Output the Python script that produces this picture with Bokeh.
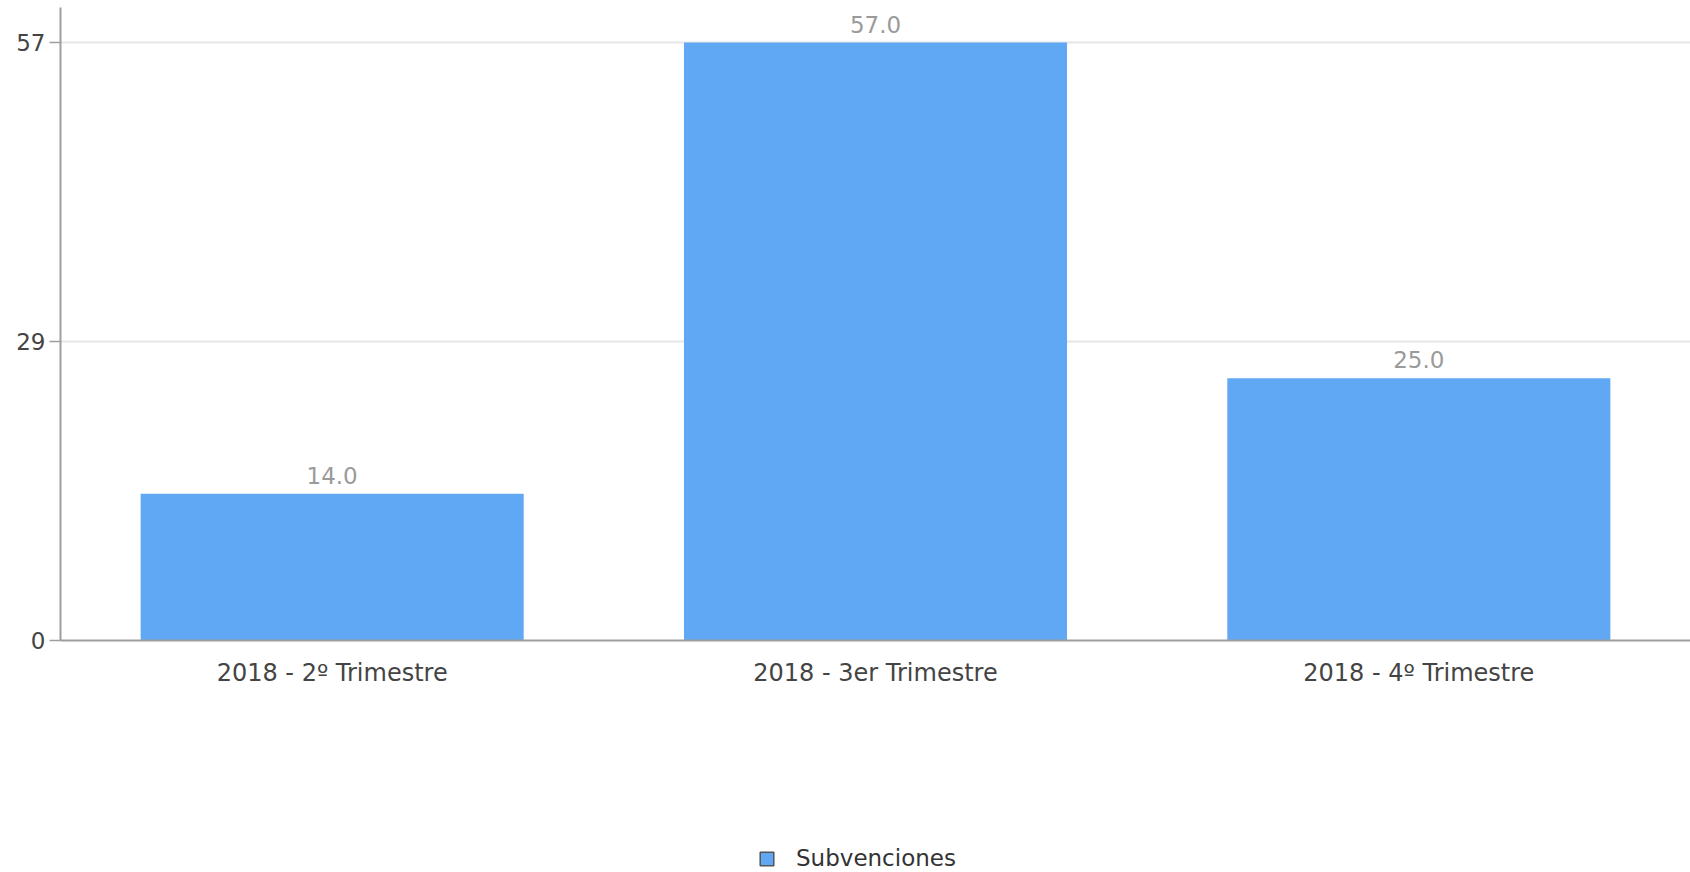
from bokeh.plotting import figure
from bokeh.layouts import column
from bokeh.models import (ColumnDataSource, FixedTicker, LabelSet, Legend,
                          LegendItem, Range1d, FactorRange)
from bokeh.core.properties import value
from bokeh.embed import file_html
from bokeh.resources import INLINE

# ---- data ----
categories = ["2018 - 2º Trimestre", "2018 - 3er Trimestre", "2018 - 4º Trimestre"]
values = [14.0, 57.0, 25.0]
series_name = "Subvenciones"
y_ticks = [0, 28.5, 57]
y_tick_labels = ["0", "29", "57"]

BAR_COLOR = "#60a8f4"
FONT = "DejaVu Sans"
FS = "23px"

src = ColumnDataSource(dict(cat=categories, val=values,
                            lbl=[f"{v:.1f}" for v in values]))

LEG_H = 60
p = figure(width=1690, height=872 - LEG_H,
           x_range=FactorRange(factors=categories),
           y_range=Range1d(0, 60.34),
           output_backend="svg", toolbar_location=None,
           min_border_left=60, min_border_right=0,
           min_border_top=7, min_border_bottom=872 - LEG_H - 640)

p.vbar(x="cat", top="val", width=0.705, source=src,
       fill_color=BAR_COLOR, line_color=BAR_COLOR, line_width=0)

labels = LabelSet(x="cat", y="val", text="lbl", source=src,
                  y_offset=10, text_align="center", text_baseline="alphabetic",
                  text_font=value(FONT), text_font_size=FS, text_color="#9a9a9a")
p.add_layout(labels)

# axes
p.yaxis.ticker = FixedTicker(ticks=y_ticks)
p.yaxis.major_label_overrides = {t: l for t, l in zip(y_ticks, y_tick_labels)}
for ax in (p.xaxis, p.yaxis):
    ax.axis_line_color = "#9e9e9e"
    ax.axis_line_width = 2
    ax.major_label_text_font = FONT
    ax.major_label_text_font_size = FS
    ax.major_label_text_color = "#444444"
    ax.minor_tick_line_color = None
p.xaxis.major_label_text_font_size = "24px"
p.yaxis.major_tick_out = 11
p.yaxis.major_tick_in = 0
p.yaxis.major_tick_line_color = "#9e9e9e"
p.yaxis.major_tick_line_width = 1.5
p.yaxis.major_label_standoff = 4
p.xaxis.major_tick_out = 0
p.xaxis.major_tick_in = 0
p.xaxis.major_tick_line_color = None
p.xaxis.major_label_standoff = 18

p.xgrid.grid_line_color = None
p.ygrid.grid_line_color = "#e6e6e6"
p.ygrid.grid_line_width = 2
p.outline_line_color = None

# ---- legend strip below the chart ----
p2 = figure(width=1690, height=LEG_H,
            x_range=FactorRange(factors=categories), y_range=Range1d(0, 1),
            x_axis_type=None, y_axis_type=None,
            output_backend="svg", toolbar_location=None, min_border=0)
p2.grid.visible = False
p2.outline_line_color = None
# hidden renderer of the same series, used only for its legend swatch
leg_r = p2.vbar(x="cat", top="val", width=0.705, source=src,
                fill_color=BAR_COLOR, line_color="#555555", line_width=1.5,
                visible=False)
legend = Legend(items=[LegendItem(label=series_name, renderers=[leg_r])],
                location=(698, 1), orientation="horizontal",
                border_line_color=None, background_fill_alpha=0,
                glyph_width=17, glyph_height=17, label_standoff=21,
                label_text_font=FONT, label_text_font_size=FS,
                label_text_color="#333333",
                padding=0, margin=0, spacing=0)
p2.add_layout(legend)

layout = column(p, p2, spacing=0)
open("out.html", "w").write(file_html(layout, INLINE))
